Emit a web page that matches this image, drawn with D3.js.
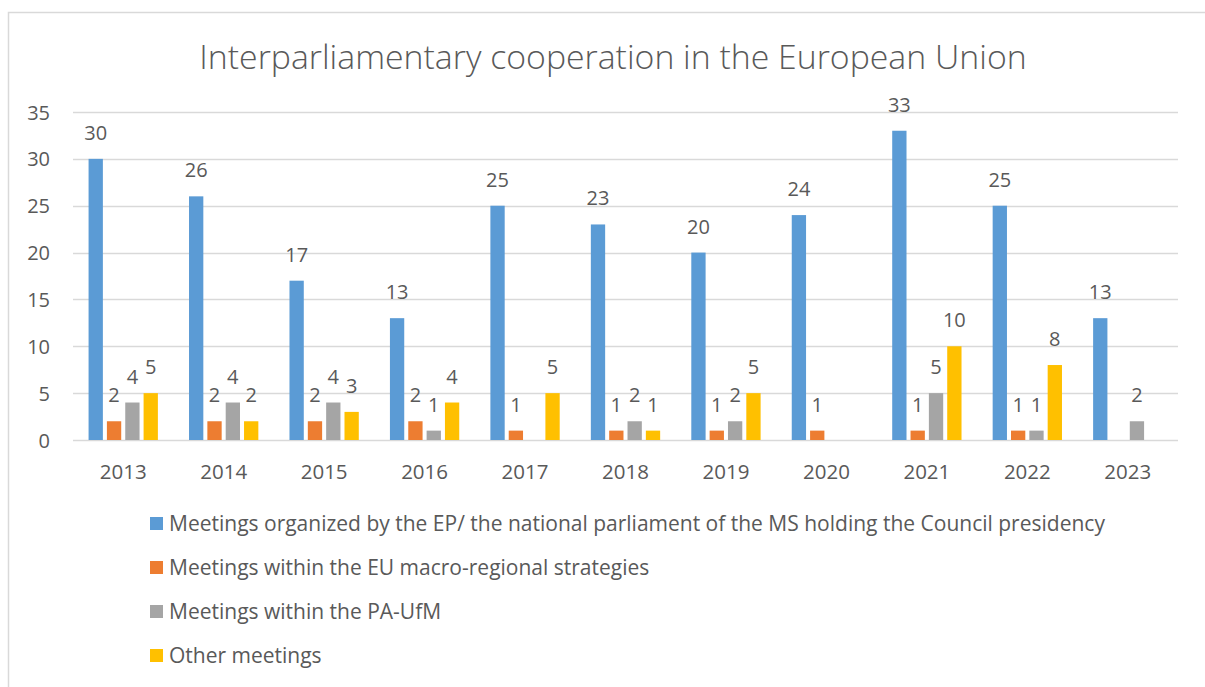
<!DOCTYPE html>
<html>
<head>
<meta charset="utf-8">
<script src="https://cdn.jsdelivr.net/npm/d3@7"></script>
<style>
body { margin: 0; background: #fff; }
text { font-family: "Open Sans", "Noto Sans", sans-serif; fill: #595959; }
</style>
</head>
<body>
<svg id="chart"></svg>
<script>
// chart data
var years = ["2013","2014","2015","2016","2017","2018","2019","2020","2021","2022","2023"];
var seriesNames = [
	"Meetings organized by the EP/ the national parliament of the MS holding the Council presidency",
	"Meetings within the EU macro-regional strategies",
	"Meetings within the PA-UfM",
	"Other meetings"
];
var seriesColors = ["#5b9bd5", "#ed7d31", "#a5a5a5", "#ffc000"];
var epMeetings     = [30, 26, 17, 13, 25, 23, 20, 24, 33, 25, 13];
var macroRegional  = [2, 2, 2, 2, 1, 1, 1, 1, 1, 1, 0];
var paUfm          = [4, 4, 4, 1, 0, 2, 2, 0, 5, 1, 2];
var otherMeetings  = [5, 2, 3, 4, 5, 1, 5, 0, 10, 8, 0];
var yTicks = [0, 5, 10, 15, 20, 25, 30, 35];

var allSeries = [epMeetings, macroRegional, paUfm, otherMeetings];

var width = 1205, height = 687;
var svg = d3.select("#chart").attr("width", width).attr("height", height);

// outer chart border (cut by the page edges)
svg.append("rect")
	.attr("x", 8.5).attr("y", 12.5)
	.attr("width", 1230).attr("height", 700)
	.attr("fill", "none").attr("stroke", "#d9d9d9").attr("stroke-width", 1.5);

svg.append("text")
	.attr("x", 613).attr("y", 69)
	.attr("text-anchor", "middle")
	.style("font-size", "33.8px").style("font-weight", 300)
	.text("Interparliamentary cooperation in the European Union");

var plot = { left: 73, right: 1178, top: 112, bottom: 440 };

var y = d3.scaleLinear().domain([0, 35]).range([plot.bottom, plot.top]);
var x0 = d3.scaleBand().domain(years).range([plot.left, plot.right])
	.paddingInner(0.31).paddingOuter(0.155);
var x1 = d3.scaleBand().domain(d3.range(4)).range([0, x0.bandwidth()])
	.paddingInner(0.22).paddingOuter(0);

// gridlines
svg.append("g").selectAll("line").data(yTicks).join("line")
	.attr("x1", plot.left).attr("x2", plot.right)
	.attr("y1", function(d) { return Math.round(y(d)) + 0.5; })
	.attr("y2", function(d) { return Math.round(y(d)) + 0.5; })
	.attr("stroke", "#d9d9d9").attr("stroke-width", function(d) { return d === 0 ? 1.5 : 1.3; });

// y axis labels
var yAxis = d3.axisLeft(y).tickValues(yTicks).tickSize(0).tickPadding(0);
var gy = svg.append("g").attr("transform", "translate(50,0)").call(yAxis);
gy.select(".domain").remove();
gy.selectAll("text").style("font-size", "20px").attr("text-anchor", "end").attr("dy", "0.35em");

// x axis labels
var xAxis = d3.axisBottom(x0).tickSize(0).tickPadding(0);
var gx = svg.append("g").attr("transform", "translate(0,472)").call(xAxis);
gx.select(".domain").remove();
gx.selectAll("text").style("font-size", "20.5px").attr("y", 0).attr("dy", "0.35em");

// bars + labels
var groups = svg.append("g").selectAll("g").data(years).join("g")
	.attr("transform", function(d) { return "translate(" + x0(d) + ",0)"; });

groups.each(function(yr, i) {
	var g = d3.select(this);
	var vals = allSeries.map(function(s, k) { return { k: k, v: s[i] }; });
	g.selectAll("rect").data(vals.filter(function(d) { return d.v > 0; })).join("rect")
		.attr("x", function(d) { return x1(d.k); })
		.attr("y", function(d) { return y(d.v); })
		.attr("width", x1.bandwidth())
		.attr("height", function(d) { return plot.bottom - y(d.v); })
		.attr("fill", function(d) { return seriesColors[d.k]; });
	g.selectAll("text").data(vals.filter(function(d) { return d.v > 0; })).join("text")
		.attr("x", function(d) { return x1(d.k) + x1.bandwidth() / 2; })
		.attr("y", function(d) { return y(d.v) - 19; })
		.attr("text-anchor", "middle")
		.style("font-size", "20px")
		.text(function(d) { return d.v; });
});

// legend
var legend = svg.append("g").selectAll("g").data(seriesNames).join("g")
	.attr("transform", function(d, i) { return "translate(150," + (524 + i * 44) + ")"; });
legend.append("rect")
	.attr("x", 0).attr("y", -7).attr("width", 13).attr("height", 13)
	.attr("fill", function(d, i) { return seriesColors[i]; });
legend.append("text")
	.attr("x", 19).attr("y", 0).attr("dy", "0.35em")
	.style("font-size", "21px")
	.text(function(d) { return d; });
</script>
</body>
</html>
